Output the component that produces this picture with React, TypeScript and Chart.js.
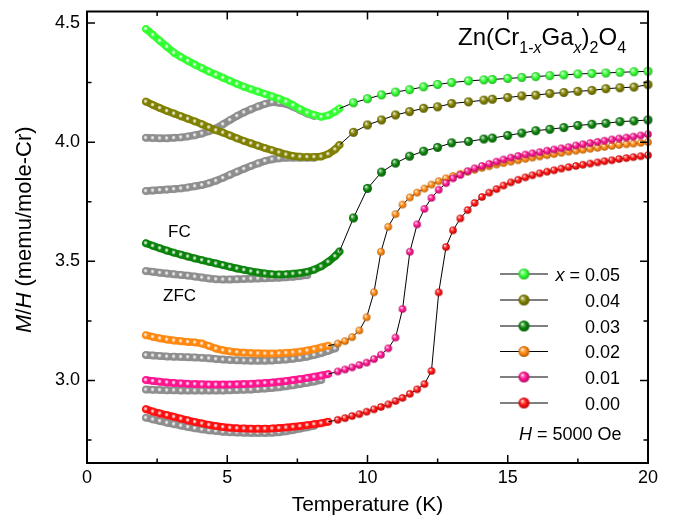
import React, { useEffect, useRef } from 'react';
import { Chart, registerables } from 'chart.js';

Chart.register(...registerables);

const FONT = "'Liberation Sans', Arial, Helvetica, sans-serif";

// ---- temperature grids (K) ----
const tDense = [2.1, 2.35, 2.6, 2.85, 3.1, 3.35, 3.6, 3.85, 4.1, 4.35, 4.6, 4.85, 5.1, 5.35, 5.6, 5.85, 6.1, 6.35, 6.6, 6.85, 7.1, 7.35, 7.6, 7.85, 8.1, 8.35, 8.6, 8.85, 9.0];
const tHiTop = [9.5, 10, 10.5, 11, 11.5, 12, 12.5, 13, 13.6, 14.15, 14.45, 15, 15.5, 16, 16.5, 17, 17.5, 18, 18.5, 19, 19.5, 20];
const tHiLow = [8.94, 9.2, 9.45, 9.71, 9.97, 10.23, 10.48, 10.74, 11.0, 11.25, 11.51, 11.77, 12.03, 12.28, 12.54, 12.8, 13.05, 13.31, 13.57, 13.82, 14.08, 14.34, 14.6, 14.85, 15.11, 15.37, 15.63, 15.88, 16.14, 16.4, 16.65, 16.91, 17.17, 17.43, 17.68, 17.94, 18.2, 18.45, 18.71, 18.97, 19.23, 19.48, 19.74, 20.0];

// ---- FC (field cooled), low temperature ----
const fc005 = [4.475, 4.45, 4.425, 4.40, 4.375, 4.357, 4.341, 4.325, 4.31, 4.296, 4.283, 4.27, 4.257, 4.244, 4.232, 4.222, 4.212, 4.202, 4.192, 4.182, 4.17, 4.155, 4.138, 4.124, 4.114, 4.106, 4.112, 4.128, 4.141];
const fc004 = [4.170, 4.156, 4.143, 4.131, 4.120, 4.109, 4.098, 4.087, 4.075, 4.062, 4.050, 4.040, 4.028, 4.016, 4.005, 3.995, 3.985, 3.975, 3.966, 3.957, 3.948, 3.942, 3.939, 3.938, 3.938, 3.940, 3.950, 3.970, 3.988];
const fc003 = [3.576, 3.565, 3.555, 3.545, 3.536, 3.528, 3.52, 3.512, 3.505, 3.498, 3.491, 3.484, 3.477, 3.47, 3.464, 3.458, 3.453, 3.449, 3.446, 3.445, 3.446, 3.448, 3.451, 3.456, 3.465, 3.479, 3.498, 3.522, 3.541];
const fc002 = [3.19, 3.183, 3.177, 3.172, 3.168, 3.165, 3.162, 3.16, 3.155, 3.145, 3.134, 3.127, 3.122, 3.119, 3.117, 3.115, 3.114, 3.113, 3.113, 3.114, 3.116, 3.118, 3.121, 3.126, 3.132, 3.139, 3.146];
const fc001 = [3.002, 2.998, 2.995, 2.992, 2.99, 2.988, 2.986, 2.985, 2.984, 2.983, 2.983, 2.983, 2.983, 2.984, 2.985, 2.986, 2.988, 2.99, 2.992, 2.995, 2.998, 3.002, 3.006, 3.011, 3.016, 3.021, 3.027];
const fc000 = [2.88, 2.87, 2.862, 2.855, 2.848, 2.84, 2.833, 2.826, 2.82, 2.814, 2.809, 2.805, 2.802, 2.8, 2.799, 2.798, 2.798, 2.798, 2.799, 2.801, 2.803, 2.806, 2.809, 2.813, 2.817, 2.821, 2.827];

// ---- ZFC (zero field cooled), grey ----
const zfc005 = [4.018, 4.017, 4.016, 4.016, 4.018, 4.020, 4.024, 4.029, 4.036, 4.046, 4.058, 4.075, 4.093, 4.11, 4.125, 4.138, 4.15, 4.16, 4.168, 4.165, 4.16, 4.148, 4.134, 4.12, 4.11];
const zfc004 = [3.795, 3.797, 3.799, 3.801, 3.803, 3.806, 3.81, 3.815, 3.82, 3.828, 3.838, 3.85, 3.863, 3.876, 3.888, 3.9, 3.911, 3.921, 3.928, 3.932, 3.934, 3.935, 3.935, 3.935, 3.935];
const zfc003 = [3.459, 3.456, 3.452, 3.449, 3.446, 3.443, 3.44, 3.436, 3.432, 3.428, 3.425, 3.424, 3.424, 3.425, 3.426, 3.427, 3.428, 3.429, 3.43, 3.431, 3.433, 3.435, 3.438, 3.442];
const zfc002 = [3.107, 3.105, 3.103, 3.101, 3.1, 3.099, 3.098, 3.097, 3.095, 3.093, 3.09, 3.088, 3.086, 3.085, 3.084, 3.083, 3.083, 3.083, 3.084, 3.086, 3.088, 3.091, 3.095, 3.1, 3.107, 3.115, 3.124, 3.135];
const zfc001 = [2.962, 2.961, 2.96, 2.959, 2.959, 2.958, 2.958, 2.958, 2.958, 2.958, 2.958, 2.958, 2.959, 2.96, 2.961, 2.962, 2.964, 2.966, 2.969, 2.972, 2.976, 2.98, 2.985, 2.99, 2.996, 3.002];
const zfc000 = [2.844, 2.837, 2.83, 2.823, 2.817, 2.811, 2.805, 2.8, 2.795, 2.791, 2.788, 2.785, 2.783, 2.782, 2.781, 2.78, 2.78, 2.78, 2.781, 2.783, 2.787, 2.792, 2.798, 2.804, 2.81];

// ---- above the transition ----
const hi005 = [4.165, 4.182, 4.198, 4.21, 4.22, 4.232, 4.242, 4.25, 4.257, 4.261, 4.263, 4.267, 4.271, 4.275, 4.279, 4.282, 4.286, 4.288, 4.29, 4.293, 4.295, 4.297];
const hi004 = [4.041, 4.072, 4.093, 4.114, 4.128, 4.142, 4.148, 4.162, 4.169, 4.176, 4.18, 4.187, 4.194, 4.197, 4.204, 4.208, 4.213, 4.217, 4.224, 4.228, 4.231, 4.241];
const hi003 = [3.682, 3.806, 3.874, 3.912, 3.941, 3.962, 3.978, 3.997, 4.003, 4.013, 4.017, 4.028, 4.038, 4.048, 4.054, 4.061, 4.07, 4.075, 4.079, 4.086, 4.089, 4.093];
const hi002 = [3.155, 3.165, 3.182, 3.21, 3.265, 3.37, 3.54, 3.645, 3.698, 3.738, 3.768, 3.788, 3.805, 3.822, 3.836, 3.848, 3.858, 3.867, 3.876, 3.884, 3.892, 3.899, 3.906, 3.912, 3.918, 3.924, 3.93, 3.935, 3.94, 3.945, 3.95, 3.955, 3.96, 3.964, 3.968, 3.972, 3.976, 3.98, 3.984, 3.988, 3.991, 3.994, 3.997, 4.0];
const hi001 = [3.038, 3.046, 3.055, 3.065, 3.075, 3.09, 3.108, 3.135, 3.18, 3.3, 3.54, 3.655, 3.72, 3.766, 3.8, 3.828, 3.848, 3.862, 3.878, 3.89, 3.9, 3.909, 3.918, 3.927, 3.935, 3.942, 3.948, 3.953, 3.958, 3.964, 3.969, 3.974, 3.979, 3.986, 3.991, 3.996, 4.001, 4.006, 4.011, 4.015, 4.019, 4.023, 4.028, 4.033];
const hi000 = [2.835, 2.842, 2.851, 2.859, 2.869, 2.879, 2.889, 2.9, 2.914, 2.927, 2.944, 2.963, 2.985, 3.04, 3.37, 3.56, 3.63, 3.68, 3.715, 3.745, 3.77, 3.788, 3.803, 3.818, 3.831, 3.842, 3.852, 3.861, 3.869, 3.876, 3.882, 3.889, 3.895, 3.9, 3.905, 3.91, 3.915, 3.92, 3.924, 3.929, 3.933, 3.937, 3.941, 3.945];

const labels = ['0.05', '0.04', '0.03', '0.02', '0.01', '0.00'];
const colors = ['#33ff33', '#808000', '#0c840c', '#ff8810', '#ff1490', '#ff1010'];
const zfcColor = '#8e8e8e';

const xTicks = [0, 5, 10, 15, 20];
const yTicks = [3.0, 3.5, 4.0, 4.5];

const series = [
  { fc: fc005, zfc: zfc005, hi: hi005, tHi: tHiTop, rHi: 4.5, order: 10 },
  { fc: fc004, zfc: zfc004, hi: hi004, tHi: tHiTop, rHi: 4.5, order: 10 },
  { fc: fc003, zfc: zfc003, hi: hi003, tHi: tHiTop, rHi: 4.5, order: 10 },
  { fc: fc002, zfc: zfc002, hi: hi002, tHi: tHiLow, rHi: 3.8, order: 11 },
  { fc: fc001, zfc: zfc001, hi: hi001, tHi: tHiLow, rHi: 3.8, order: 10 },
  { fc: fc000, zfc: zfc000, hi: hi000, tHi: tHiLow, rHi: 3.8, order: 10 },
];

function shade(hex: string, f: number) {
  const n = parseInt(hex.slice(1), 16);
  let r = (n >> 16) & 255, g = (n >> 8) & 255, b = n & 255;
  if (f >= 0) { r += (255 - r) * f; g += (255 - g) * f; b += (255 - b) * f; }
  else { r *= 1 + f; g *= 1 + f; b *= 1 + f; }
  return `rgb(${Math.round(r)},${Math.round(g)},${Math.round(b)})`;
}

function sphere(color: string, r: number) {
  const s = Math.ceil(2 * r + 2);
  const c = document.createElement('canvas');
  c.width = s; c.height = s;
  const g = c.getContext('2d')!;
  const cx = s / 2, cy = s / 2;
  const grad = g.createRadialGradient(cx - r * 0.35, cy - r * 0.4, r * 0.05, cx, cy, r);
  grad.addColorStop(0, '#ffffff');
  grad.addColorStop(0.22, shade(color, 0.45));
  grad.addColorStop(0.55, color);
  grad.addColorStop(1, shade(color, -0.3));
  g.fillStyle = grad;
  g.beginPath();
  g.arc(cx, cy, r, 0, Math.PI * 2);
  g.fill();
  return c;
}

// small ring-like bead used for the dense low-temperature runs
function bead(color: string, r: number) {
  const s = Math.ceil(2 * r + 2);
  const c = document.createElement('canvas');
  c.width = s; c.height = s;
  const g = c.getContext('2d')!;
  const cx = s / 2, cy = s / 2;
  g.fillStyle = color;
  g.beginPath();
  g.arc(cx, cy, r, 0, Math.PI * 2);
  g.fill();
  const grad = g.createRadialGradient(cx - 0.4, cy - 0.4, 0, cx - 0.4, cy - 0.4, r * 0.6);
  grad.addColorStop(0, 'rgba(255,255,255,0.95)');
  grad.addColorStop(0.6, shade(color, 0.55));
  grad.addColorStop(1, color);
  g.fillStyle = grad;
  g.beginPath();
  g.arc(cx - 0.4, cy - 0.4, r * 0.6, 0, Math.PI * 2);
  g.fill();
  return c;
}

function pts(ts: number[], vs: number[]) {
  return vs.map((v, i) => ({ x: ts[i], y: v }));
}

function drawParts(ctx: CanvasRenderingContext2D, parts: { t: string; size: number; italic?: boolean; dy?: number }[], x: number, y: number, align: 'left' | 'right') {
  const widths = parts.map(p => {
    ctx.font = `${p.italic ? 'italic ' : ''}${p.size}px ${FONT}`;
    return ctx.measureText(p.t).width;
  });
  const total = widths.reduce((a, b) => a + b, 0);
  let cx = align === 'left' ? x : x - total;
  ctx.textAlign = 'left';
  ctx.textBaseline = 'alphabetic';
  parts.forEach((p, i) => {
    ctx.font = `${p.italic ? 'italic ' : ''}${p.size}px ${FONT}`;
    ctx.fillText(p.t, cx, y + (p.dy || 0));
    cx += widths[i];
  });
}

export default function App() {
  const ref = useRef<HTMLCanvasElement | null>(null);

  useEffect(() => {
    if (!ref.current) return;
    const datasets: any[] = [];
    series.forEach((s, k) => {
      const col = colors[k];
      const fcPts = pts(tDense, s.fc);
      const last = fcPts[fcPts.length - 1];
      datasets.push({
        data: [last, ...pts(s.tHi, s.hi)],
        borderColor: '#000', borderWidth: 1,
        pointStyle: sphere(col, s.rHi),
        pointRadius: (c: any) => (c.dataIndex === 0 ? 0 : s.rHi),
        order: s.order, clip: 10,
      });
      datasets.push({
        data: fcPts,
        borderColor: col, borderWidth: 7.5, borderCapStyle: 'round', borderJoinStyle: 'round',
        pointStyle: bead(col, 3.8), pointRadius: 3.8,
        order: 20, clip: 10,
      });
      datasets.push({
        data: pts(tDense, s.zfc),
        borderColor: zfcColor, borderWidth: 7.5, borderCapStyle: 'round', borderJoinStyle: 'round',
        pointStyle: bead(zfcColor, 3.8), pointRadius: 3.8,
        order: 30, clip: 10,
      });
    });

    const legendSpheres = colors.map(c => sphere(c, 5.5));

    const decor = {
      id: 'decor',
      afterDraw(chart: any) {
        const { ctx, chartArea: a, scales } = chart;
        const xs = scales.x, ys = scales.y;
        ctx.save();
        ctx.strokeStyle = '#000';
        ctx.fillStyle = '#000';
        // ticks (inward, all four sides)
        ctx.lineWidth = 1.5;
        for (let v = 0; v <= 20.001; v += 2.5) {
          const major = Math.abs(v / 5 - Math.round(v / 5)) < 1e-6;
          const len = major ? 8 : 4.5;
          const px = xs.getPixelForValue(v);
          ctx.beginPath();
          ctx.moveTo(px, a.bottom); ctx.lineTo(px, a.bottom - len);
          ctx.moveTo(px, a.top); ctx.lineTo(px, a.top + len);
          ctx.stroke();
        }
        for (let v = 2.75; v <= 4.51; v += 0.25) {
          const major = Math.abs(v / 0.5 - Math.round(v / 0.5)) < 1e-6;
          const len = major ? 8 : 4.5;
          const py = ys.getPixelForValue(v);
          ctx.beginPath();
          ctx.moveTo(a.left, py); ctx.lineTo(a.left + len, py);
          ctx.moveTo(a.right, py); ctx.lineTo(a.right - len, py);
          ctx.stroke();
        }
        // frame
        ctx.lineWidth = 2;
        ctx.strokeRect(a.left, a.top, a.right - a.left, a.bottom - a.top);

        // axis titles
        ctx.textAlign = 'center';
        ctx.textBaseline = 'alphabetic';
        ctx.font = `21px ${FONT}`;
        ctx.fillText('Temperature (K)', (a.left + a.right) / 2, 511);

        ctx.save();
        ctx.translate(31, 333);
        ctx.rotate(-Math.PI / 2);
        drawParts(ctx, [
          { t: 'M', size: 22, italic: true },
          { t: '/', size: 22 },
          { t: 'H', size: 22, italic: true },
          { t: ' (memu/mole-Cr)', size: 22 },
        ], 0, 0, 'left');
        ctx.restore();

        // compound formula
        drawParts(ctx, [
          { t: 'Zn(Cr', size: 24 },
          { t: '1-', size: 16, dy: 8 },
          { t: 'x', size: 16, italic: true, dy: 8 },
          { t: 'Ga', size: 24 },
          { t: 'x', size: 16, italic: true, dy: 8 },
          { t: ')', size: 24 },
          { t: '2', size: 16, dy: 8 },
          { t: 'O', size: 24 },
          { t: '4', size: 16, dy: 8 },
        ], 458, 45, 'left');

        // FC / ZFC labels
        ctx.font = `17px ${FONT}`;
        ctx.textAlign = 'left';
        ctx.fillText('FC', 168, 236.5);
        ctx.fillText('ZFC', 163, 301);

        // legend
        const rowsY = [274, 300, 326, 351.5, 377, 403];
        rowsY.forEach((yy, i) => {
          ctx.lineWidth = 1;
          ctx.strokeStyle = '#000';
          ctx.beginPath();
          ctx.moveTo(500, yy); ctx.lineTo(548, yy);
          ctx.stroke();
          const sp = legendSpheres[i];
          ctx.drawImage(sp, 524 - sp.width / 2, yy - sp.height / 2);
          if (i === 0) {
            drawParts(ctx, [
              { t: 'x', size: 18, italic: true },
              { t: ' = ' + labels[i], size: 18 },
            ], 620, yy + 6.5, 'right');
          } else {
            drawParts(ctx, [{ t: labels[i], size: 18 }], 620, yy + 6.5, 'right');
          }
        });
        drawParts(ctx, [
          { t: 'H', size: 18, italic: true },
          { t: ' = 5000 Oe', size: 18 },
        ], 621.5, 440, 'right');
        ctx.restore();
      },
    };

    const chart = new Chart(ref.current, {
      type: 'line',
      data: { datasets },
      options: {
        responsive: false,
        maintainAspectRatio: false,
        devicePixelRatio: 1,
        animation: false,
        events: [],
        layout: { padding: { left: 0, right: 30, top: 5, bottom: 0 } },
        plugins: { legend: { display: false }, tooltip: { enabled: false } },
        elements: { line: { tension: 0 } },
        scales: {
          x: {
            type: 'linear', min: 0, max: 20,
            grid: { display: false, drawTicks: false },
            border: { display: false },
            ticks: {
              stepSize: 5, padding: 4, color: '#000', maxRotation: 0,
              font: { size: 18, family: FONT },
              callback: (v: any) => (xTicks.includes(Number(v)) ? String(v) : ''),
            },
            afterFit: (s: any) => { s.height = 53; s.paddingLeft = 0; s.paddingRight = 0; },
          },
          y: {
            type: 'linear', min: 2.654, max: 4.548,
            grid: { display: false, drawTicks: false },
            border: { display: false },
            ticks: {
              stepSize: 0.5, includeBounds: false, padding: 7, color: '#000',
              font: { size: 18, family: FONT },
              callback: (v: any) => (yTicks.some(t => Math.abs(t - Number(v)) < 1e-6) ? Number(v).toFixed(1) : ''),
            },
            afterFit: (s: any) => { s.width = 87; s.paddingTop = 0; s.paddingBottom = 0; },
          },
        },
      },
      plugins: [decor],
    } as any);

    return () => chart.destroy();
  }, []);

  return (
    <div style={{ position: 'fixed', left: 0, top: 0, width: 678, height: 516, background: '#fff' }}>
      <canvas ref={ref} width={678} height={516} style={{ display: 'block', width: 678, height: 516 }} />
    </div>
  );
}
